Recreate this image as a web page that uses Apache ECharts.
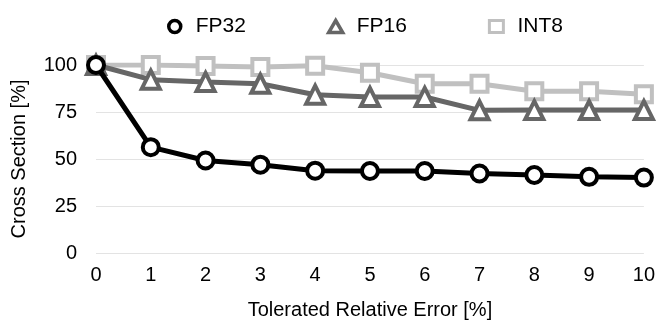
<!DOCTYPE html>
<html>
<head>
<meta charset="utf-8">
<script src="https://cdn.jsdelivr.net/npm/echarts@6/dist/echarts.min.js"></script>
<style>html,body{margin:0;padding:0;background:#fff}#c{width:658px;height:326px}</style>
</head>
<body>
<div id="c"></div>
<script>
const categories = [0, 1, 2, 3, 4, 5, 6, 7, 8, 9, 10];
const fp32 = [100, 56.3, 49.2, 47, 43.8, 43.6, 43.6, 42.3, 41.5, 40.5, 40.1];
const fp16 = [100, 92.2, 91, 90, 84.2, 83, 83, 75.9, 76, 76, 76];
const int8 = [100, 100, 99.5, 99, 99.6, 95.9, 90, 90, 86, 86, 84.4];
const yTicks = [0, 25, 50, 75, 100];

const font = 'Liberation Sans, Arial, Helvetica, sans-serif';
const chart = echarts.init(document.getElementById('c'));
function pairs(arr) { return categories.map((x, i) => [x, arr[i]]); }
chart.setOption({
  animation: false,
  textStyle: { fontFamily: font },
  legend: {
    left: 162, top: 11,
    itemWidth: 14, itemHeight: 12, itemGap: 81,
    textStyle: { fontSize: 21, color: '#000', fontFamily: font, padding: [0, 0, 0, 9] },
    data: [
      { name: 'FP32', icon: 'circle', itemStyle: { color: '#fff', borderColor: '#000', borderWidth: 3.5 } },
      { name: 'FP16', icon: 'triangle', itemStyle: { color: '#fff', borderColor: '#666', borderWidth: 3.5 } },
      { name: 'INT8', icon: 'rect', itemStyle: { color: '#fff', borderColor: '#c0c0c0', borderWidth: 3 } }
    ]
  },
  grid: { left: 96, right: 12, top: 65, bottom: 73 },
  xAxis: {
    type: 'value', min: 0, max: 10, interval: 1,
    name: 'Tolerated Relative Error [%]', nameLocation: 'middle', nameGap: 47,
    nameTextStyle: { fontSize: 20, color: '#000' },
    axisLine: { show: false }, axisTick: { show: false }, splitLine: { show: false },
    axisLabel: { fontSize: 20, color: '#000', margin: 12 }
  },
  yAxis: {
    type: 'value', min: 0, max: 100, interval: 25,
    name: 'Cross Section [%]', nameLocation: 'middle', nameGap: 67,
    nameTextStyle: { fontSize: 20, color: '#000' },
    axisLine: { show: false }, axisTick: { show: false },
    splitLine: { lineStyle: { color: '#e3e3e3', width: 1 } },
    axisLabel: { fontSize: 20, color: '#000', margin: 19,
      formatter: v => yTicks.includes(v) ? String(v) : '' }
  },
  series: [
    { name: 'INT8', type: 'line', data: pairs(int8), z: 1,
      symbol: 'rect', symbolSize: 16,
      lineStyle: { color: '#c0c0c0', width: 5 },
      itemStyle: { color: '#fff', borderColor: '#c0c0c0', borderWidth: 4 } },
    { name: 'FP16', type: 'line', data: pairs(fp16), z: 2,
      symbol: 'triangle', symbolSize: 18,
      lineStyle: { color: '#666', width: 5 },
      itemStyle: { color: '#fff', borderColor: '#666', borderWidth: 4 } },
    { name: 'FP32', type: 'line', data: pairs(fp32), z: 3,
      symbol: 'circle', symbolSize: 16,
      lineStyle: { color: '#000', width: 5 },
      itemStyle: { color: '#fff', borderColor: '#000', borderWidth: 4 } }
  ]
});
</script>
</body>
</html>
